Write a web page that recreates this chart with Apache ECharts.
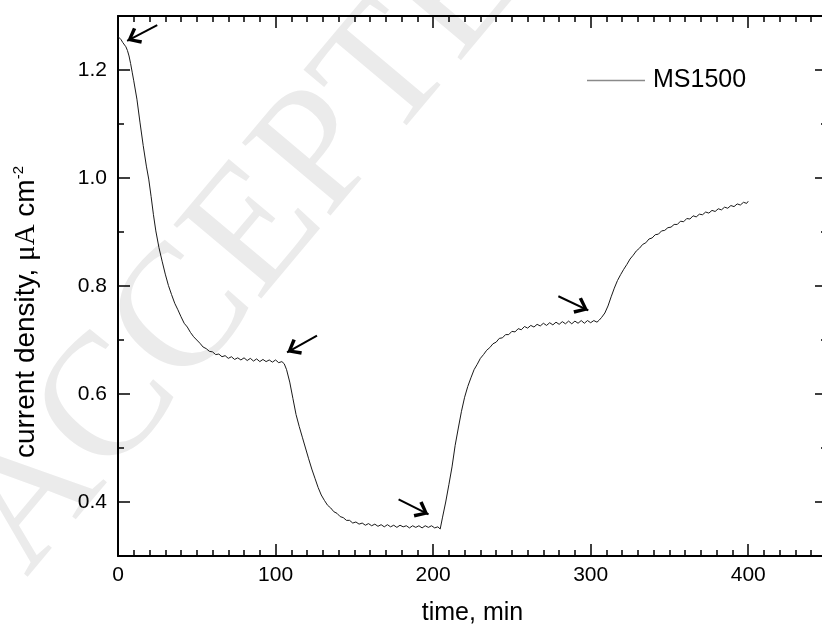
<!DOCTYPE html>
<html>
<head>
<meta charset="utf-8">
<script src="https://cdn.jsdelivr.net/npm/echarts@6/dist/echarts.min.js"></script>
<style>
  html, body { margin: 0; padding: 0; background: #fff; }
  #chart { width: 822px; height: 631px; }
</style>
</head>
<body>
<div id="chart"></div>
<script>
// data: time (min) and current density (uA cm-2)
const times = [
  0, 1, 2, 3, 4, 5, 6, 7, 8, 9, 10, 12, 14, 16, 18, 19.5, 21, 22.5, 24, 26, 28, 30, 32, 34, 36, 38,
  40, 42, 44, 46, 48, 50, 52, 54, 56, 58, 60, 62, 64, 66, 68, 70, 72, 74, 76, 78, 80, 82, 84, 86,
  88, 90, 92, 94, 96, 98, 100, 102, 104, 105.5, 107, 109, 111, 113, 115, 117, 119, 121, 123, 125,
  127, 129, 131, 133, 135, 137, 139, 141, 143, 145, 147, 149, 151, 153, 155, 157, 159, 161, 163,
  165, 167, 169, 171, 173, 175, 177, 179, 181, 183, 185, 187, 189, 191, 193, 195, 197, 199, 201,
  203, 204.5, 206, 208, 210, 212, 214, 216, 218, 220, 222, 224, 226, 228, 230, 232, 234, 236, 238,
  240, 242, 244, 246, 248, 250, 252, 254, 256, 258, 260, 262, 264, 266, 268, 270, 272, 274, 276,
  278, 280, 282, 284, 286, 288, 290, 292, 294, 296, 298, 300, 302, 304, 305.5, 307, 309, 311, 313,
  315, 317, 319, 321, 323, 325, 327, 329, 331, 333, 335, 337, 339, 341, 343, 345, 347, 349, 351,
  353, 355, 357, 359, 361, 363, 365, 367, 369, 371, 373, 375, 377, 379, 381, 383, 385, 387, 389,
  391, 393, 395, 397, 399, 400
];
const density = [
  1.262, 1.259, 1.256, 1.251, 1.250, 1.243, 1.236, 1.226, 1.212, 1.196, 1.180, 1.146, 1.102, 1.060,
  1.022, 0.998, 0.966, 0.932, 0.902, 0.871, 0.846, 0.822, 0.801, 0.784, 0.768, 0.756,
  0.743, 0.731, 0.724, 0.714, 0.706, 0.700, 0.694, 0.687, 0.684, 0.679, 0.678, 0.673, 0.674, 0.669,
  0.671, 0.666, 0.669, 0.664, 0.667, 0.663, 0.667, 0.662, 0.666, 0.661,
  0.665, 0.660, 0.664, 0.660, 0.663, 0.659, 0.663, 0.658, 0.660, 0.656, 0.645, 0.622, 0.592, 0.562,
  0.540, 0.520, 0.500, 0.480, 0.461, 0.444,
  0.427, 0.413, 0.403, 0.394, 0.389, 0.382, 0.379, 0.373, 0.371, 0.366, 0.366, 0.361, 0.363, 0.359,
  0.361, 0.357, 0.360, 0.356, 0.359,
  0.355, 0.358, 0.354, 0.358, 0.354, 0.357, 0.353, 0.357, 0.354, 0.356, 0.352, 0.356, 0.353, 0.356,
  0.352, 0.356, 0.353, 0.356, 0.352,
  0.354, 0.350, 0.372, 0.400, 0.432, 0.465, 0.505, 0.537, 0.568, 0.594, 0.614, 0.630, 0.645, 0.655,
  0.666, 0.673, 0.681, 0.686, 0.693,
  0.696, 0.703, 0.704, 0.710, 0.710, 0.716, 0.715, 0.721, 0.719, 0.725, 0.722, 0.727, 0.724, 0.729,
  0.726, 0.731, 0.727, 0.732, 0.728,
  0.733, 0.729, 0.734, 0.730, 0.735, 0.730, 0.735, 0.731, 0.736, 0.731, 0.736, 0.732, 0.736, 0.733,
  0.737, 0.742, 0.750, 0.763, 0.780,
  0.796, 0.810, 0.821, 0.831, 0.840, 0.850, 0.857, 0.865, 0.870, 0.877, 0.880, 0.887, 0.889, 0.895,
  0.896, 0.902, 0.903, 0.908, 0.909,
  0.914, 0.914, 0.920, 0.919, 0.925, 0.924, 0.930, 0.928, 0.933, 0.932, 0.937, 0.935, 0.940, 0.938,
  0.943, 0.941, 0.946, 0.944, 0.949,
  0.947, 0.952, 0.950, 0.955, 0.953, 0.957
];

// arrows: [tail time, tail density, head time, head density]
const arrows = [
  [24.9, 1.283, 5.8, 1.254],
  [126.3, 0.708, 107.3, 0.677],
  [178.1, 0.405, 197.1, 0.377],
  [279.5, 0.781, 298.5, 0.755]
];

const xMajorTicks = [0, 100, 200, 300, 400];
const yMajorTicks = [0.4, 0.6, 0.8, 1.0, 1.2];

const seriesName = 'MS1500';
const xTitle = 'time, min';

const sans = '"Liberation Sans", Arial, sans-serif';
const serif = '"Liberation Serif", "Times New Roman", serif';

let data = [];
for (let i = 0; i < times.length; i++) {
  data.push([times[i], density[i]]);
}

// open V arrow head, tip in the middle of the symbol box
const arrowHead = 'path://M10,-15 L10.01,-15 L10,-14.99 Z M10,0 L20,12 L17,14.5 L10,5.5 L3,14.5 L0,12 Z';

let markData = arrows.map(a => [{ coord: [a[0], a[1]] }, { coord: [a[2], a[3]] }]);

// every axis is drawn twice: minor ticks on one copy, major ticks (and labels) on the other
function xAxisPair(position, showLabels) {
  return [
    {
      type: 'value', position: position, min: 0, max: 450, interval: 10,
      axisLine: { show: true, onZero: false, lineStyle: { color: '#000', width: 2 } },
      axisTick: { show: true, inside: true, length: 6, lineStyle: { color: '#000', width: 1.5 } },
      axisLabel: { show: false },
      splitLine: { show: false }
    },
    {
      type: 'value', position: position, min: 0, max: 450,
      name: showLabels ? xTitle : '',
      nameLocation: 'middle',
      nameGap: 45,
      nameTextStyle: { fontFamily: sans, fontSize: 25, color: '#000' },
      axisLine: { show: false, onZero: false },
      axisTick: { show: true, inside: true, length: 12, customValues: xMajorTicks, lineStyle: { color: '#000', width: 1.5 } },
      axisLabel: {
        show: showLabels, customValues: xMajorTicks, margin: 9,
        fontFamily: sans, fontSize: 21, color: '#000'
      },
      splitLine: { show: false }
    }
  ];
}

function yAxisPair(position, showLabels) {
  return [
    {
      type: 'value', position: position, min: 0.3, max: 1.3, interval: 0.1,
      axisLine: { show: true, onZero: false, lineStyle: { color: '#000', width: 2 } },
      axisTick: { show: true, inside: true, length: 6, lineStyle: { color: '#000', width: 1.5 } },
      axisLabel: { show: false },
      splitLine: { show: false }
    },
    {
      type: 'value', position: position, min: 0.3, max: 1.3,
      axisLine: { show: false, onZero: false },
      axisTick: { show: true, inside: true, length: 12, customValues: yMajorTicks, lineStyle: { color: '#000', width: 1.5 } },
      axisLabel: {
        show: showLabels, customValues: yMajorTicks, margin: 11,
        fontFamily: sans, fontSize: 21, color: '#000',
        formatter: v => v.toFixed(1)
      },
      splitLine: { show: false }
    }
  ];
}

let options = {
  backgroundColor: '#fff',
  animation: false,
  grid: { left: 118, right: -5, top: 16, bottom: 75, outerBoundsMode: 'none' },
  legend: {
    data: [{ name: seriesName, icon: 'rect' }],
    left: 587,
    top: 68,
    padding: 0,
    itemWidth: 58,
    itemHeight: 1.5,
    itemStyle: { color: '#8a8a8a' },
    textStyle: { fontFamily: sans, fontSize: 25, color: '#000', padding: [0, 0, 0, 3] }
  },
  xAxis: xAxisPair('bottom', true).concat(xAxisPair('top', false)),
  yAxis: yAxisPair('left', true).concat(yAxisPair('right', false)),
  graphic: [
    {
      // faint diagonal watermark
      type: 'text', x: 282, y: 202, rotation: 50 * Math.PI / 180, z: -10, silent: true,
      style: {
        text: 'ACCEPTED', fontFamily: serif, fontSize: 175, fill: '#ebebeb',
        align: 'center', verticalAlign: 'middle'
      }
    },
    {
      type: 'text', x: 26, y: 312, rotation: Math.PI / 2, silent: true,
      style: {
        text: 'current density, {mu|μA} cm{sup|-2}',
        fontFamily: sans, fontSize: 28, fill: '#000',
        align: 'center', verticalAlign: 'middle',
        rich: {
          mu: { fontFamily: serif, fontSize: 29, fill: '#000' },
          sup: { fontFamily: sans, fontSize: 15, fill: '#000', verticalAlign: 'top' }
        }
      }
    }
  ],
  series: [
    {
      name: seriesName,
      type: 'line',
      xAxisIndex: 0,
      yAxisIndex: 0,
      data: data,
      showSymbol: false,
      lineStyle: { color: '#1a1a1a', width: 1 },
      itemStyle: { color: '#1a1a1a' },
      markLine: {
        silent: true,
        symbol: ['none', arrowHead],
        symbolSize: [18, 27],
        label: { show: false },
        lineStyle: { color: '#000', width: 2, type: 'solid' },
        data: markData
      }
    }
  ]
};

let instance = echarts.init(document.getElementById('chart'));
instance.setOption(options);
</script>
</body>
</html>
